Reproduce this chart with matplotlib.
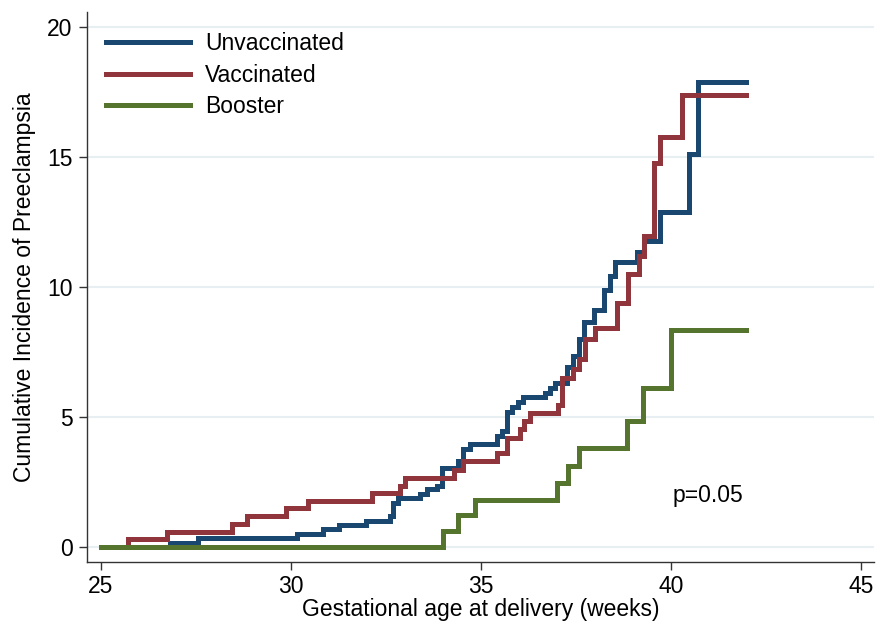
import matplotlib
matplotlib.use("Agg")
import matplotlib.pyplot as plt

plt.rcParams['font.family'] = ['Liberation Sans', 'DejaVu Sans']

# Data (cumulative incidence, step after each time)
unvax_t = [25.0, 26.82, 27.56, 30.15, 30.85, 31.25, 31.97, 32.59, 32.69, 32.82, 33.39, 33.57,
           33.83, 33.97, 34.40, 34.53, 34.71, 35.41, 35.54, 35.67, 35.82, 35.96, 36.09, 36.68,
           36.82, 36.95, 37.25, 37.41, 37.56, 37.69, 37.96, 38.22, 38.39, 38.53, 39.10, 39.27,
           39.69, 40.46, 40.70, 41.97]
unvax_y = [0.0, 0.18, 0.37, 0.52, 0.69, 0.86, 1.01, 1.20, 1.72, 1.91, 2.04, 2.23,
           2.38, 3.06, 3.32, 3.77, 3.96, 4.30, 4.47, 5.20, 5.40, 5.60, 5.79, 5.95,
           6.14, 6.33, 6.94, 7.36, 8.00, 8.67, 9.15, 9.89, 10.43, 10.98, 11.36, 11.78,
           12.90, 15.12, 17.90, 17.90]

vax_t = [25.0, 25.72, 26.73, 28.44, 28.83, 29.86, 30.43, 32.12, 32.87, 33.00, 34.27, 34.53,
         35.42, 35.68, 36.02, 36.12, 36.28, 37.02, 37.12, 37.41, 37.56, 37.72, 37.98, 38.57,
         38.86, 39.14, 39.27, 39.54, 39.69, 40.28, 41.97]
vax_y = [0.0, 0.31, 0.60, 0.91, 1.20, 1.50, 1.80, 2.10, 2.36, 2.68, 2.98, 3.31,
         3.64, 4.22, 4.54, 4.86, 5.18, 5.48, 6.53, 6.87, 7.23, 8.03, 8.43, 9.41,
         10.52, 11.20, 11.97, 14.77, 15.79, 17.40, 17.40]

boost_t = [25.0, 34.00, 34.40, 34.84, 36.99, 37.28, 37.56, 38.83, 39.25, 39.99, 41.97]
boost_y = [0.0, 0.62, 1.23, 1.82, 2.49, 3.13, 3.83, 4.86, 6.14, 8.36, 8.36]

labels = ["Unvaccinated", "Vaccinated", "Booster"]
colors = ["#1a476f", "#90353b", "#55752f"]
x_ticks = [25, 30, 35, 40, 45]
y_ticks = [0, 5, 10, 15, 20]

fig = plt.figure(figsize=(8.76, 6.22), dpi=100)
ax = fig.add_axes([0.0993, 0.0965, 0.898, 0.8845])

for t, y, lab, c in zip([unvax_t, vax_t, boost_t], [unvax_y, vax_y, boost_y], labels, colors):
    ax.step(t, y, where='post', color=c, lw=3.6, label=lab, solid_joinstyle='miter')

ax.set_xlim(24.63, 45.32)
ax.set_ylim(-0.56, 20.6)
ax.set_xticks(x_ticks)
ax.set_yticks(y_ticks)
ax.tick_params(axis='both', labelsize=16.5, length=5.5, width=1.0, color='#333333', pad=4)
ax.tick_params(axis='y', pad=5)
for s in ['top', 'right']:
    ax.spines[s].set_visible(False)
for s in ['left', 'bottom']:
    ax.spines[s].set_color('#333333')
    ax.spines[s].set_linewidth(1.0)
ax.yaxis.grid(True, color='#e8eff2', lw=1.5)
ax.set_axisbelow(True)

ax.set_xlabel("Gestational age at delivery (weeks)", fontsize=16.5, labelpad=0)
ax.set_ylabel("Cumulative Incidence of Preeclampsia", fontsize=16.5, labelpad=8)

ax.text(40.03, 2.0, "p=0.05", fontsize=16.5, ha='left', va='center')

leg = ax.legend(loc='upper left', bbox_to_anchor=(0.0062, 0.989), frameon=False, fontsize=16.5,
                handlelength=3.7, handletextpad=0.65, labelspacing=0.39, borderaxespad=0.2)

fig.savefig("out.png", dpi=100)
